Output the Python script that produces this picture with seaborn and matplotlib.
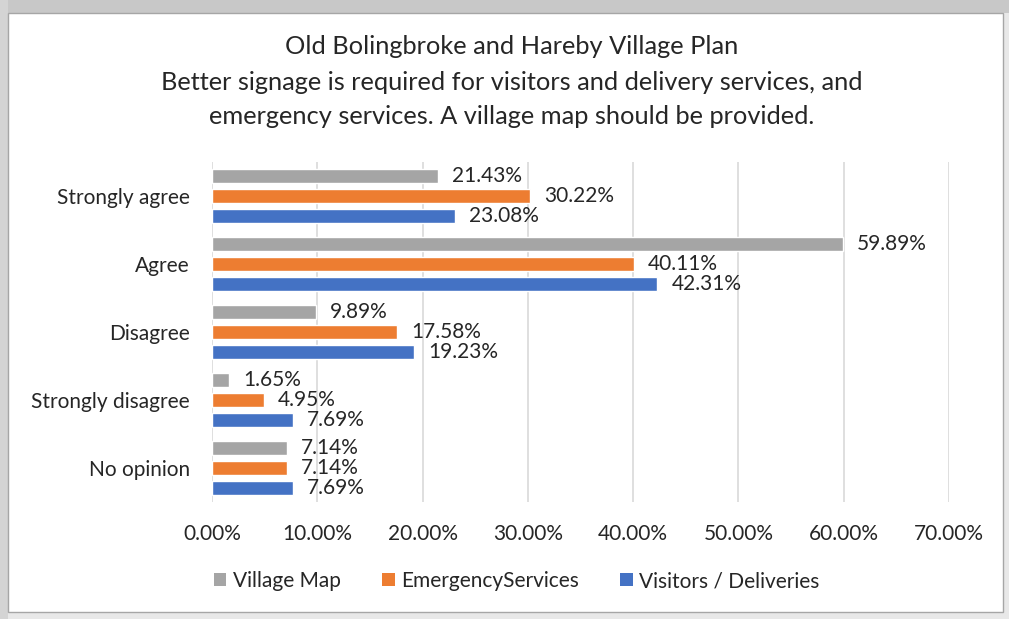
import numpy as np
import pandas as pd
import matplotlib
matplotlib.use('Agg')
import matplotlib.pyplot as plt
import seaborn as sns
from matplotlib.patches import Rectangle, Patch
from matplotlib.ticker import FuncFormatter

# Survey responses, percent of respondents
categories = ['Strongly agree', 'Agree', 'Disagree', 'Strongly disagree', 'No opinion']
series_names = ['Village Map', 'EmergencyServices', 'Visitors / Deliveries']
village_map = [21.43, 59.89, 9.89, 1.65, 7.14]
emergency = [30.22, 40.11, 17.58, 4.95, 7.14]
visitors = [23.08, 42.31, 19.23, 7.69, 7.69]

COLORS = ['#A5A5A5', '#ED7D31', '#4472C4']
TEXT_COLOR = '#262626'
FONT = 'Lato'

df = pd.DataFrame({
    'category': categories * 3,
    'series': np.repeat(series_names, len(categories)),
    'value': village_map + emergency + visitors,
})

sns.set_style('white')
plt.rcParams['font.family'] = [FONT, 'DejaVu Sans']

fig = plt.figure(figsize=(10.09, 6.19), dpi=100)

# Excel-like chart frame with a soft shadow on top / left
fig.patches.append(Rectangle((0, 0), 1, 1, transform=fig.transFigure,
                             facecolor='#E8E8E8', edgecolor='none', zorder=-10))
fig.patches.append(Rectangle((0, 1 - 13 / 619), 1, 13 / 619, transform=fig.transFigure,
                             facecolor='#C8C8C8', edgecolor='none', zorder=-9))
fig.patches.append(Rectangle((0, 0), 8 / 1009, 1, transform=fig.transFigure,
                             facecolor='#D4D4D4', edgecolor='none', zorder=-9))
fig.patches.append(Rectangle((8 / 1009, 7 / 619), 995 / 1009, 599 / 619,
                             transform=fig.transFigure, facecolor='white',
                             edgecolor='#A6A6A6', linewidth=1.0, zorder=-5))

ax = fig.add_axes([212 / 1009, 1 - 502 / 619, 737 / 1009, 340 / 619])
ax.set_facecolor('none')

sns.barplot(data=df, y='category', x='value', hue='series', order=categories,
            hue_order=series_names, palette=COLORS, orient='h', width=0.87,
            gap=0.27, saturation=1, ax=ax, legend=False)

for cont in ax.containers:
    ax.bar_label(cont, labels=[f'{v:.2f}%' for v in cont.datavalues],
                 padding=10, fontsize=15, color=TEXT_COLOR)

ax.set_xlim(0, 70)
ax.set_xticks(np.arange(0, 71, 10))
ax.xaxis.set_major_formatter(FuncFormatter(lambda v, p: f'{v:.2f}%'))
ax.grid(axis='x', color='#D9D9D9', linewidth=1.2)
ax.set_axisbelow(True)
for s in ax.spines.values():
    s.set_visible(False)
ax.tick_params(axis='x', length=0, pad=16, labelsize=15, labelcolor=TEXT_COLOR)
ax.tick_params(axis='y', length=0, pad=16, labelsize=15, labelcolor=TEXT_COLOR)
ax.set_xlabel('')
ax.set_ylabel('')

title_lines = ['Old Bolingbroke and Hareby Village Plan',
               'Better signage is required for visitors and delivery services, and',
               'emergency services. A village map should be provided.']
for line, y in zip(title_lines, [47, 83, 117]):
    fig.text(0.507, 1 - y / 619, line, ha='center', va='center',
             fontsize=18.3, color=TEXT_COLOR)

handles = [Patch(facecolor=c, edgecolor='none', label=n)
           for c, n in zip(COLORS, series_names)]
fig.legend(handles=handles, loc='center', bbox_to_anchor=(0.512, 1 - 581 / 619),
           ncol=3, frameon=False, fontsize=15, handlelength=0.6,
           handleheight=0.6, handletextpad=0.3, columnspacing=2.0,
           labelcolor=TEXT_COLOR)

fig.savefig('out.png', dpi=100)
